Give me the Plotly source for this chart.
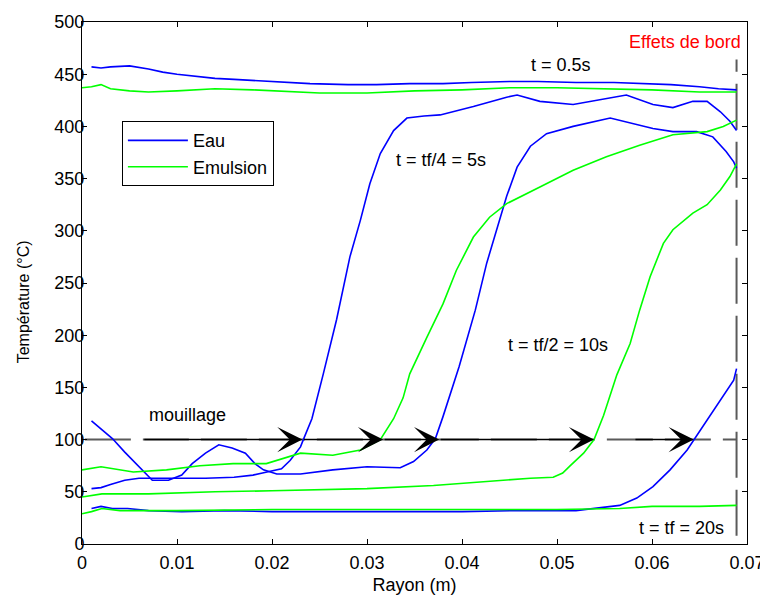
import plotly.graph_objects as go

# ---------------- data ----------------
# Eau (blue)
eau_05_x = [0.0010, 0.0020, 0.0030, 0.0050, 0.0070, 0.0085, 0.0100, 0.0120, 0.0140, 0.0160, 0.0180, 0.0210,
            0.0240, 0.0280, 0.0310, 0.0345, 0.0380, 0.0410, 0.0450, 0.0480, 0.0520, 0.0560, 0.0590, 0.0620,
            0.0650, 0.0670, 0.0689]
eau_05_y = [457, 456, 457, 458, 455, 452, 450, 448, 446, 445, 444, 443,
            441, 440, 440, 441, 441, 442, 443, 443, 442, 442, 441, 440,
            438, 436, 435]

eau_tf4_x = [0.0010, 0.0020, 0.0030, 0.0045, 0.0060, 0.0080, 0.0100, 0.0130, 0.0160, 0.0180, 0.0190, 0.0200,
             0.0210, 0.0219, 0.0230, 0.0233, 0.0242, 0.0254, 0.0268, 0.0282, 0.0293, 0.0303, 0.0314, 0.0328,
             0.0342, 0.0360, 0.0377, 0.0412, 0.0447, 0.0458, 0.0482, 0.0517, 0.0552, 0.0573, 0.0601, 0.0622,
             0.0643, 0.0658, 0.0672, 0.0682, 0.0689]
eau_tf4_y = [53, 54, 57, 61, 63, 63, 63, 63, 64, 66, 68, 70,
             72, 80, 93, 100, 120, 163, 215, 275, 310, 345, 374, 396,
             408, 410, 411, 419, 428, 430, 424, 421, 427, 430, 421, 418,
             424, 424, 414, 405, 396]

eau_tf2_x = [0.0010, 0.0032, 0.0045, 0.0063, 0.0074, 0.0091, 0.0105, 0.0116, 0.0130, 0.0144, 0.0158, 0.0172,
             0.0182, 0.0191, 0.0205, 0.0230, 0.0264, 0.0300, 0.0335, 0.0349, 0.0363, 0.0372, 0.0380, 0.0397,
             0.0414, 0.0426, 0.0438, 0.0447, 0.0458, 0.0472, 0.0489, 0.0517, 0.0556, 0.0573, 0.0601, 0.0622,
             0.0647, 0.0664, 0.0678, 0.0686, 0.0689]
eau_tf2_y = [118, 101, 88, 71, 61, 61, 66, 77, 87, 95, 92, 87,
             77, 71, 67, 67, 71, 74, 73, 79, 90, 101, 122, 170,
             224, 269, 307, 333, 361, 381, 393, 400, 408, 404, 398, 395,
             395, 390, 376, 366, 360]

eau_tf_x = [0.0010, 0.0020, 0.0032, 0.0048, 0.0070, 0.0105, 0.0150, 0.0200, 0.0250, 0.0300, 0.0350, 0.0400,
            0.0461, 0.0520, 0.0566, 0.0584, 0.0601, 0.0619, 0.0637, 0.0645, 0.0658, 0.0672, 0.0686, 0.0689]
eau_tf_y = [34, 36, 34, 34, 32, 31, 32, 31, 31, 31, 31, 31,
            32, 32, 37, 44, 55, 71, 90, 101, 119, 138, 157, 168]

# Emulsion (green)
emu_05_x = [0.0000, 0.0010, 0.0020, 0.0030, 0.0050, 0.0070, 0.0100, 0.0140, 0.0180, 0.0220, 0.0250, 0.0300,
            0.0350, 0.0400, 0.0450, 0.0500, 0.0550, 0.0600, 0.0650, 0.0689]
emu_05_y = [437, 438, 440, 436, 434, 433, 434, 436, 435, 433, 432, 432,
            434, 435, 437, 437, 436, 435, 433, 433]

emu_tf4_x = [0.0000, 0.0020, 0.0054, 0.0089, 0.0124, 0.0159, 0.0194, 0.0212, 0.0230, 0.0264, 0.0293, 0.0314,
             0.0328, 0.0338, 0.0345, 0.0363, 0.0380, 0.0394, 0.0412, 0.0429, 0.0447, 0.0482, 0.0517, 0.0552,
             0.0587, 0.0622, 0.0658, 0.0675, 0.0689]
emu_tf4_y = [71, 74, 69, 71, 75, 77, 77, 82, 87, 85, 90, 100,
             120, 140, 163, 198, 230, 262, 294, 313, 326, 342, 358, 371,
             382, 392, 395, 400, 406]

emu_tf2_x = [0.0000, 0.0021, 0.0070, 0.0140, 0.0200, 0.0240, 0.0300, 0.0370, 0.0440, 0.0472, 0.0496, 0.0506,
             0.0514, 0.0528, 0.0539, 0.0549, 0.0563, 0.0577, 0.0587, 0.0598, 0.0612, 0.0622, 0.0643, 0.0658,
             0.0672, 0.0682, 0.0689]
emu_tf2_y = [45, 48, 48, 50, 51, 52, 53, 56, 61, 63, 64, 68,
             75, 87, 100, 123, 162, 192, 224, 256, 288, 301, 317, 325,
             339, 352, 364]

emu_tf_x = [0.0000, 0.0010, 0.0021, 0.0040, 0.0070, 0.0100, 0.0200, 0.0300, 0.0400, 0.0500, 0.0566, 0.0600,
            0.0650, 0.0689]
emu_tf_y = [29, 31, 34, 32, 32, 32, 33, 33, 33, 33, 34, 36,
            36, 37]

# reference lines
mouillage_x = [0.0003, 0.0689]
mouillage_y = [100, 100]
bord_x = [0.0689, 0.0689]
bord_y = [8, 464]

# arrows along the wetting line
arrow_tail_x = [0.0064, 0.0232, 0.0317, 0.0376, 0.0581]
arrow_head_x = [0.0232, 0.0317, 0.0376, 0.0539, 0.0644]
arrow_y = 100

# text labels
label_text = ["t = 0.5s", "t = tf/4 = 5s", "t = tf/2 = 10s", "t = tf = 20s", "mouillage"]
label_x = [0.0504, 0.0378, 0.0501, 0.0631, 0.0111]
label_y = [459, 368, 191, 15, 124]

x_ticks = [0, 0.01, 0.02, 0.03, 0.04, 0.05, 0.06, 0.07]
x_tick_text = ["0", "0.01", "0.02", "0.03", "0.04", "0.05", "0.06", "0.07"]
y_ticks = [0, 50, 100, 150, 200, 250, 300, 350, 400, 450, 500]

# ---------------- figure ----------------
FONT = "Liberation Sans, Arial, Helvetica, sans-serif"
BLUE = "#0000FF"
GREEN = "#00FF00"
GREY = "#5a5a5a"

fig = go.Figure()

fig.add_trace(go.Scatter(x=mouillage_x, y=mouillage_y, mode="lines",
                         line=dict(color=GREY, width=2, dash="46px,12px"),
                         showlegend=False, hoverinfo="skip"))
fig.add_trace(go.Scatter(x=bord_x, y=bord_y, mode="lines",
                         line=dict(color=GREY, width=2, dash="46px,12px"),
                         showlegend=False, hoverinfo="skip"))

blue_series = [(eau_05_x, eau_05_y), (eau_tf4_x, eau_tf4_y), (eau_tf2_x, eau_tf2_y), (eau_tf_x, eau_tf_y)]
green_series = [(emu_05_x, emu_05_y), (emu_tf4_x, emu_tf4_y), (emu_tf2_x, emu_tf2_y), (emu_tf_x, emu_tf_y)]

for i, (xs, ys) in enumerate(blue_series):
    fig.add_trace(go.Scatter(x=xs, y=ys, mode="lines", name="Eau", legendgroup="eau",
                             showlegend=(i == 0), line=dict(color=BLUE, width=1.6)))
for i, (xs, ys) in enumerate(green_series):
    fig.add_trace(go.Scatter(x=xs, y=ys, mode="lines", name="Emulsion", legendgroup="emu",
                             showlegend=(i == 0), line=dict(color=GREEN, width=1.6)))

annotations = []
for tx, hx in zip(arrow_tail_x, arrow_head_x):
    annotations.append(dict(x=hx, y=arrow_y, ax=tx, ay=arrow_y, xref="x", yref="y",
                            axref="x", ayref="y", text="", showarrow=True,
                            arrowhead=3, arrowsize=2.8, arrowwidth=1.5, arrowcolor="black",
                            standoff=0))
for t, lx, ly in zip(label_text, label_x, label_y):
    annotations.append(dict(x=lx, y=ly, xref="x", yref="y", text=t, showarrow=False,
                            font=dict(family=FONT, size=18, color="black")))
annotations.append(dict(x=0.0696, y=481, xref="x", yref="y", text="Effets de bord",
                        showarrow=False, xanchor="right",
                        font=dict(family=FONT, size=18, color="#FF0000")))
# y-axis title
annotations.append(dict(x=-0.0887, y=0.463, xref="paper", yref="paper", text="Température (°C)",
                        textangle=-90, showarrow=False, xanchor="center", yanchor="middle",
                        font=dict(family=FONT, size=16, color="black")))

# the page body adds an 8px offset, so the figure is 8px smaller than the window
fig.update_layout(
    width=760, height=589,
    margin=dict(l=74, r=21, t=14, b=53, autoexpand=False),
    paper_bgcolor="white", plot_bgcolor="white",
    font=dict(family=FONT, size=18, color="black"),
    annotations=annotations,
    legend=dict(x=0.06, y=0.81, xanchor="left", yanchor="top",
                bgcolor="white", bordercolor="black", borderwidth=1,
                font=dict(family=FONT, size=18, color="black"),
                itemwidth=60, tracegroupgap=0),
)
fig.update_xaxes(range=[0, 0.07], tickmode="array", tickvals=x_ticks, ticktext=x_tick_text,
                 showline=True, linecolor="black", linewidth=1, mirror="ticks",
                 ticks="inside", ticklen=5, tickcolor="black", automargin=False,
                 ticklabelstandoff=2,
                 showgrid=False, zeroline=False,
                 title=dict(text="Rayon (m)", standoff=6,
                            font=dict(family=FONT, size=18, color="black")))
fig.update_yaxes(range=[0, 500], tickmode="array", tickvals=y_ticks,
                 showline=True, linecolor="black", linewidth=1, mirror="ticks",
                 ticks="inside", ticklen=5, tickcolor="black", automargin=False,
                 ticklabelstandoff=-7,
                 showgrid=False, zeroline=False)

fig.write_html("out.html")
